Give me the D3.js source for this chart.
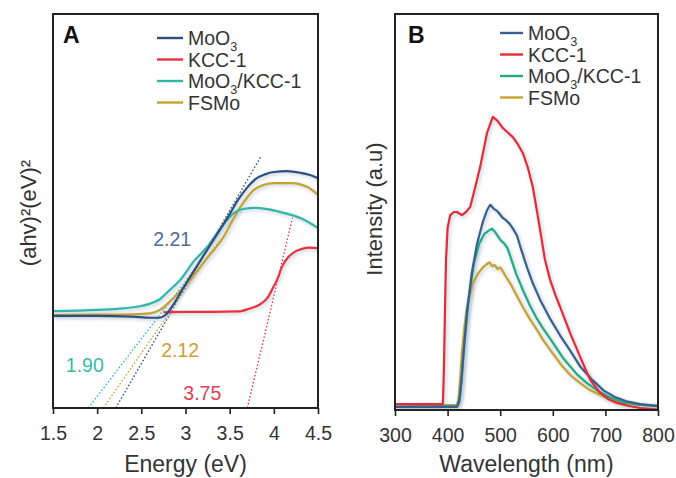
<!DOCTYPE html>
<html>
<head>
<meta charset="utf-8">
<script src="https://cdn.jsdelivr.net/npm/d3@7"></script>
<style>
  body { margin: 0; background: #fff; }
  svg text { font-family: "Liberation Sans", Arial, Helvetica, sans-serif; fill: #333; }
</style>
</head>
<body>
<svg id="chart" width="676" height="478"></svg>
<script>
// ---- data ----
const seriesNames = ["MoO3", "KCC-1", "MoO3/KCC-1", "FSMo"];
const colorsA = ["#2f4f80", "#e8323f", "#2fb8a8", "#c8a12e"];
const colorsB = ["#3a5f8e", "#e82a36", "#22aa85", "#c9a12c"];

const energyTicks = ["1.5", "2", "2.5", "3", "3.5", "4", "4.5"];
const wavelengthTicks = ["300", "400", "500", "600", "700", "800"];

// panel A: (ahv)^2 vs energy (eV), arbitrary units 0-100
const moo3Abs = [[1.5,23.4],[2.0,23.4],[2.4,23.2],[2.6,22.9],[2.7,22.9],[2.78,23.8],[2.87,26.5],[2.97,30.3],[3.1,35],[3.25,40.3],[3.4,45.6],[3.5,49.2],[3.6,53],[3.7,56],[3.8,58.2],[3.9,59.3],[4.0,59.9],[4.15,60.1],[4.3,59.7],[4.4,59.2],[4.5,58.3]];
const kccAbs = [[2.75,24.3],[3.0,24.4],[3.3,24.4],[3.6,24.5],[3.72,25.2],[3.85,26.4],[3.93,28],[3.99,30.5],[4.04,32.7],[4.1,36.2],[4.16,38.2],[4.24,39.7],[4.32,40.4],[4.4,40.7],[4.5,40.6]];
const compositeAbs = [[1.5,24.6],[2.0,24.9],[2.3,25.3],[2.5,25.9],[2.6,26.5],[2.71,27.6],[2.8,29.5],[2.94,32.5],[3.1,37.4],[3.25,41],[3.37,44.8],[3.47,47.7],[3.55,49.5],[3.65,50.5],[3.8,50.8],[3.95,50.4],[4.08,49.7],[4.3,48.2],[4.5,45.7]];
const fsmoAbs = [[1.5,23.6],[2.0,23.7],[2.4,23.8],[2.6,24.0],[2.71,24.9],[2.85,27.6],[3.05,32.5],[3.25,38.2],[3.43,43.4],[3.53,47.5],[3.62,51],[3.7,53.5],[3.77,55.3],[3.88,56.6],[4.0,57.1],[4.2,57.1],[4.38,56.1],[4.5,54.1]];

// tangent (Tauc) lines: x-intercept -> upper end
const tangentMoO3 = [[2.21,0],[3.85,63.7]];
const tangentKCC = [[3.70,0],[4.21,48.2]];
const tangentComposite = [[1.90,0],[3.2,38]];
const tangentFSMo = [[2.07,0],[3.4,43]];

const bandGaps = ["2.21", "3.75", "1.90", "2.12"];

// panel B: PL intensity vs wavelength (nm), arbitrary units 0-100
const moo3PL = [[300,0.8],[418,0.8],[422,2],[426,7],[430,14],[437,25],[446,34.6],[456,42],[467,47.5],[475,50.5],[481,51.8],[488,50.8],[494,50.3],[500,49.3],[505,48.5],[512,47.8],[518,47],[526,45.4],[532,44],[540,40.5],[551,36],[562,32],[576,27.8],[595,23],[614,18.8],[633,15],[652,11],[675,7.6],[697,4.9],[718,3.3],[740,2.2],[766,1.5],[800,1]];
const kccPL = [[300,1.5],[391,1.5],[393,10],[395,25],[397,38],[400,46],[405,49.2],[412,50],[418,50],[427,49.2],[435,50],[443,51.3],[452,56],[462,61.4],[475,70],[486,74],[495,73],[505,71.2],[515,70],[524,68.9],[534,67],[543,64.9],[553,61],[562,56.3],[574,47],[585,38],[595,32.8],[605,29],[614,26],[633,19.4],[652,13.4],[671,7.6],[690,4.3],[705,2.8],[722,1.8],[745,1],[766,0.5],[800,0.1]];
const compositePL = [[300,0.8],[418,1],[423,3],[427,8],[432,17],[440,28],[450,37],[460,42],[470,44.5],[478,45.3],[484,45.8],[490,45],[500,43],[508,42],[514,40.8],[520,38.5],[530,34.5],[543,30.3],[556,26.5],[570,23],[582,20.5],[595,18],[619,13.2],[646,9],[665,6.8],[684,5],[708,3.2],[733,2],[760,1.4],[800,1]];
const fsmoPL = [[300,0.8],[418,1.3],[421,3],[424,8],[427,14],[432,21],[437,26],[448,32],[458,34.5],[467,36],[474,36.8],[480,37.3],[485,36.3],[490,36.6],[495,35.6],[500,36],[506,34.8],[512,33.4],[519,32],[531,29],[543,26],[556,23],[570,20.2],[582,17.6],[595,15.2],[607,13],[619,10.9],[635,8.6],[652,6.8],[670,5.1],[690,3.8],[710,2.7],[733,1.8],[765,1.3],[800,1.2]];

// ---- drawing ----
const svg = d3.select("#chart");
const FONT_TICK = 19.5, FONT_TITLE = 23, FONT_LEG = 19.5;

const defs = svg.append("defs");
defs.append("filter").attr("id", "halo").attr("x", "-10%").attr("y", "-10%")
    .attr("width", "120%").attr("height", "120%")
  .append("feGaussianBlur").attr("stdDeviation", 1.6);

// writes "MoO3" style labels: a digit right after "O" is a subscript
function chemText(sel, label, size) {
  const parts = label.split(/(\d)/).filter(p => p !== "");
  let lowered = false;
  parts.forEach((p, i) => {
    const isSub = /^\d$/.test(p) && i > 0 && /O$/.test(parts[i - 1]);
    const t = sel.append("tspan").text(p);
    if (isSub) {
      t.attr("font-size", size * 0.65).attr("dy", size * 0.3);
      lowered = true;
    } else if (lowered) {
      t.attr("dy", -size * 0.3);
      lowered = false;
    }
  });
}

function panel(opt) {
  const g = svg.append("g");
  const x = d3.scaleLinear().domain(opt.xDomain).range([opt.left, opt.right]);
  const y = d3.scaleLinear().domain([0, 100]).range([opt.bottom, opt.top]);

  const clipId = "clip" + opt.tag;
  defs.append("clipPath").attr("id", clipId)
    .append("rect").attr("x", opt.left).attr("y", opt.top)
    .attr("width", opt.right - opt.left).attr("height", opt.bottom - opt.top);

  const plot = g.append("g").attr("clip-path", `url(#${clipId})`);

  (opt.tangents || []).forEach(t => {
    plot.append("path")
      .attr("d", d3.line().x(d => x(d[0])).y(d => y(d[1]))(t.pts))
      .style("fill", "none").style("stroke", t.color)
      .style("stroke-width", 1.3).style("stroke-dasharray", "1.6 2");
  });

  const line = d3.line().x(d => x(d[0])).y(d => y(d[1])).curve(opt.curve);
  opt.order.forEach(i => {
    plot.append("path").attr("d", line(opt.series[i]))
      .style("fill", "none").style("stroke", "#9fb3c8")
      .style("stroke-width", 4.5).style("opacity", 0.35)
      .attr("filter", "url(#halo)").attr("transform", "translate(1.5,1.5)");
  });
  opt.order.forEach(i => {
    plot.append("path").attr("d", line(opt.series[i]))
      .style("fill", "none").style("stroke", opt.colors[i])
      .style("stroke-width", 2.2).style("stroke-linejoin", "round");
  });

  // x axis ticks
  const axis = d3.axisBottom(x)
    .tickValues(opt.ticks.map(Number))
    .tickFormat((d, i) => opt.ticks[i])
    .tickSize(6).tickSizeOuter(0).tickPadding(12);
  const ax = g.append("g").attr("transform", `translate(0,${opt.bottom})`).call(axis);
  ax.select(".domain").remove();
  ax.selectAll(".tick line").style("stroke", "#222").style("stroke-width", 1.6);
  ax.selectAll(".tick text").attr("font-size", FONT_TICK)
    .attr("font-family", "Liberation Sans, Arial, sans-serif").style("fill", "#333");

  // frame
  g.append("rect").attr("x", opt.left).attr("y", opt.top)
    .attr("width", opt.right - opt.left).attr("height", opt.bottom - opt.top)
    .style("fill", "none").style("stroke", "#222").style("stroke-width", 2);

  // panel letter
  g.append("text").attr("x", opt.left + opt.letterDx).attr("y", opt.top + 29)
    .attr("font-size", 23).attr("font-weight", "bold").style("fill", "#111")
    .text(opt.letter);

  // axis titles
  g.append("text").attr("x", (opt.left + opt.right) / 2).attr("y", opt.xTitleY)
    .attr("text-anchor", "middle").attr("font-size", FONT_TITLE).text(opt.xTitle);
  g.append("text")
    .attr("transform", `translate(${opt.yTitleX},${opt.yTitleY}) rotate(-90)`)
    .attr("text-anchor", "middle").attr("font-size", 22).text(opt.yTitle);

  // legend
  const leg = g.append("g");
  seriesNames.forEach((name, i) => {
    const ly = opt.legY + i * 21.5;
    leg.append("line").attr("x1", opt.legX).attr("x2", opt.legX + opt.legLen)
      .attr("y1", ly).attr("y2", ly)
      .style("stroke", opt.colors[i]).style("stroke-width", 2.4);
    const t = leg.append("text").attr("x", opt.legX + opt.legLen + 5).attr("y", ly + 7)
      .attr("font-size", FONT_LEG);
    chemText(t, name, FONT_LEG);
  });

  return { x, y, g };
}

const A = panel({
  tag: "A", letter: "A", letterDx: 10,
  left: 53, right: 318, top: 14, bottom: 408,
  xDomain: [1.5, 4.5], ticks: energyTicks,
  series: [moo3Abs, kccAbs, compositeAbs, fsmoAbs],
  colors: colorsA, order: [1, 3, 2, 0], curve: d3.curveMonotoneX,
  tangents: [
    { pts: tangentMoO3, color: colorsA[0] },
    { pts: tangentKCC, color: colorsA[1] },
    { pts: tangentComposite, color: colorsA[2] },
    { pts: tangentFSMo, color: colorsA[3] }
  ],
  xTitle: "Energy (eV)", xTitleY: 472,
  yTitle: "(ahv)²(eV)²", yTitleX: 36, yTitleY: 213,
  legX: 157, legLen: 26, legY: 38
});

// band gap values next to their tangent lines
const gapSpots = [[2.85, 43], [3.19, 3.8], [1.86, 10.9], [2.94, 14.7]];
const gapColors = ["#4d6b99", "#e0404f", "#38bcaa", "#c9a132"];
bandGaps.forEach((txt, i) => {
  A.g.append("text")
    .attr("x", A.x(gapSpots[i][0])).attr("y", A.y(gapSpots[i][1]) + 7)
    .attr("text-anchor", "middle").attr("font-size", 19.5)
    .style("fill", gapColors[i]).text(txt);
});

panel({
  tag: "B", letter: "B", letterDx: 13,
  left: 395, right: 658, top: 14, bottom: 410,
  xDomain: [300, 800], ticks: wavelengthTicks,
  series: [moo3PL, kccPL, compositePL, fsmoPL],
  colors: colorsB, order: [3, 2, 0, 1], curve: d3.curveLinear,
  xTitle: "Wavelength (nm)", xTitleY: 472,
  yTitle: "Intensity (a.u)", yTitleX: 382, yTitleY: 209,
  legX: 500, legLen: 23, legY: 33
});
</script>
</body>
</html>
